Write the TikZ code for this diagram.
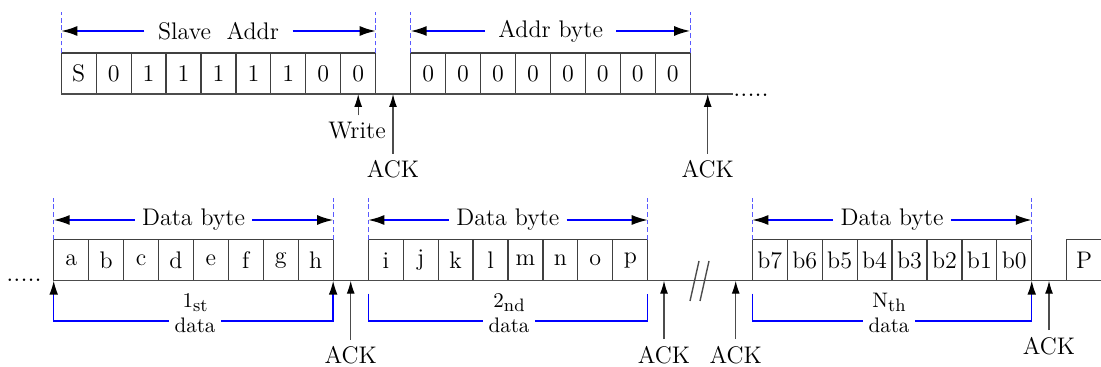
\documentclass[tikz,border=0pt]{standalone}
\usepackage{amsmath}
\usetikzlibrary{arrows.meta}

\tikzset{
  bitcell/.style={draw=black!75, line width=0.6pt, minimum width=17.46pt, minimum height=20.5pt, inner sep=0pt, outer sep=0pt},
  wire/.style={draw=black!70, line width=0.7pt},
  guide/.style={draw=blue!65, line width=0.6pt, dash pattern=on 2.4pt off 1.4pt},
  span/.style={draw=blue, line width=0.8pt, -{Latex[length=8pt,width=5pt,color=black]}},
  ackarr/.style={draw=black!70, line width=0.6pt, -{Latex[length=6.5pt,width=4pt,color=black]}},
  brk/.style={draw=blue, line width=0.7pt},
  bh/.tip={Latex[length=7pt,width=4.4pt,color=black]},
  lbl/.style={inner xsep=3.5pt, inner ysep=1pt},
  sublbl/.style={fill=white, align=center, font=\fontsize{10.5}{12.5}\selectfont, inner xsep=3pt, inner ysep=0pt},
  dots/.style={anchor=base west, inner sep=0pt, font=\fontsize{13}{15}\selectfont},
}
\newcommand{\lowsub}[1]{\raisebox{-2pt}{\fontsize{9}{9}\selectfont #1}}

\begin{document}
\begin{tikzpicture}[x=0.5pt, y=-0.5pt, font=\fontsize{12}{14.4}\selectfont]
    \useasboundingbox (0,0) rectangle (1101,367);

    % First line: slave address and address byte
    \foreach \bit [count=\i] in {S,0,1,1,1,1,1,0,0}
        \node[bitcell] (sa\i) at ({61.3+(\i-0.5)*34.93},73.5) {\bit};
    \foreach \bit [count=\i] in {0,0,0,0,0,0,0,0}
        \node[bitcell] (ab\i) at ({410.7+(\i-0.5)*34.93},73.5) {\bit};

    % Bus line of the first row
    \coordinate (topend) at (733,94);
    \draw[wire] (sa1.south west) -- (topend);
    \node[dots] (topdots) at (733,96.5) {.....};

    % Dashed limits of the bytes
    \draw[guide] (sa1.north west) -- ++(0,-40.7);
    \draw[guide] (sa9.north east) -- ++(0,-40.7);
    \draw[guide] (ab1.north west) -- ++(0,-40.7);
    \draw[guide] (ab8.north east) -- ++(0,-40.7);

    % Byte names with their spans
    \node[lbl, inner xsep=6.7pt] (tsa) at (218.5,31) {Slave\ \ Addr};
    \draw[span] (tsa.west) -- (tsa.west -| sa1.north west);
    \draw[span] (tsa.east) -- (tsa.east -| sa9.north east);
    \node[lbl, inner xsep=6.5pt] (tab) at (550.7,31) {Addr byte};
    \draw[span] (tab.west) -- (tab.west -| ab1.north west);
    \draw[span] (tab.east) -- (tab.east -| ab8.north east);

    % Write bit and acknowledges
    \node (wr) at (357,131) {Write};
    \draw[ackarr] (wr.north -| sa9.south) -- (sa9.south);
    \node (ack1) at (393,169.5) {ACK};
    \draw[ackarr] (ack1.north) -- (ack1.north |- sa9.south);
    \node (ack2) at (707.7,169.5) {ACK};
    \draw[ackarr] (ack2.north) -- (ack2.north |- ab8.south);

    % Second line: data bytes
    \foreach \bit [count=\i] in {a,b,c,d,e,f,g,h}
        \node[bitcell] (da\i) at ({53.7+(\i-0.5)*34.93},260.2) {\bit};
    \foreach \bit [count=\i] in {i,j,k,l,m,n,o,p}
        \node[bitcell] (db\i) at ({368.3+(\i-0.5)*34.93},260.2) {\bit};
    \foreach \bit [count=\i] in {b7,b6,b5,b4,b3,b2,b1,b0}
        \node[bitcell] (dc\i) at ({752.3+(\i-0.5)*34.93},260.2) {\bit};
    \node[bitcell] (stop) at (1084.2,260.2) {P};

    % Bus line of the second row
    \coordinate (botend) at (1110,280.7);
    \draw[wire] (da1.south west) -- (botend);
    \node[dots] (botdots) at (6,282) {.....};
    \draw[wire] (690,301) -- (699,261);
    \draw[wire] (700,301) -- (709,261);

    % Dashed limits of the data bytes
    \foreach \n in {da,db,dc} {
        \draw[guide] (\n1.north west) -- ++(0,-42);
        \draw[guide] (\n8.north east) -- ++(0,-42);
    }

    % Byte names with their spans
    \node[lbl] (tda) at (193.5,220) {Data byte};
    \draw[span] (tda.west) -- (tda.west -| da1.north west);
    \draw[span] (tda.east) -- (tda.east -| da8.north east);
    \node[lbl] (tdb) at (507.8,220) {Data byte};
    \draw[span] (tdb.west) -- (tdb.west -| db1.north west);
    \draw[span] (tdb.east) -- (tdb.east -| db8.north east);
    \node[lbl] (tdc) at (892,220) {Data byte};
    \draw[span] (tdc.west) -- (tdc.west -| dc1.north west);
    \draw[span] (tdc.east) -- (tdc.east -| dc8.north east);

    % Brackets under the data bytes
    \draw[brk, bh-bh] (da1.south west) -- ++(0,40.3) -| (da8.south east);
    \draw[brk] ([yshift=-6.5pt]db1.south west) -- ([yshift=-20.15pt]db1.south west) -| ([yshift=-6.5pt]db8.south east);
    \draw[brk, -bh] ([yshift=-6.5pt]dc1.south west) -- ([yshift=-20.15pt]dc1.south west) -| (dc8.south east);
    \node[sublbl] (nd1) at (195,313) {1\lowsub{st}\\data};
    \node[sublbl] (nd2) at (509,313) {2\lowsub{nd}\\data};
    \node[sublbl] (nd3) at (889,313) {N\lowsub{th}\\data};

    % Acknowledges of the data bytes
    \node (ack3) at (350.7,355.5) {ACK};
    \draw[ackarr] (ack3.north) -- (ack3.north |- da8.south);
    \node (ack4) at (664,355) {ACK};
    \draw[ackarr] (ack4.north) -- (ack4.north |- db8.south);
    \node (ack5) at (735.7,355) {ACK};
    \draw[ackarr] (ack5.north) -- (ack5.north |- db8.south);
    \node (ack6) at (1049,346) {ACK};
    \draw[ackarr] (ack6.north) -- (ack6.north |- dc8.south);
\end{tikzpicture}
\end{document}
